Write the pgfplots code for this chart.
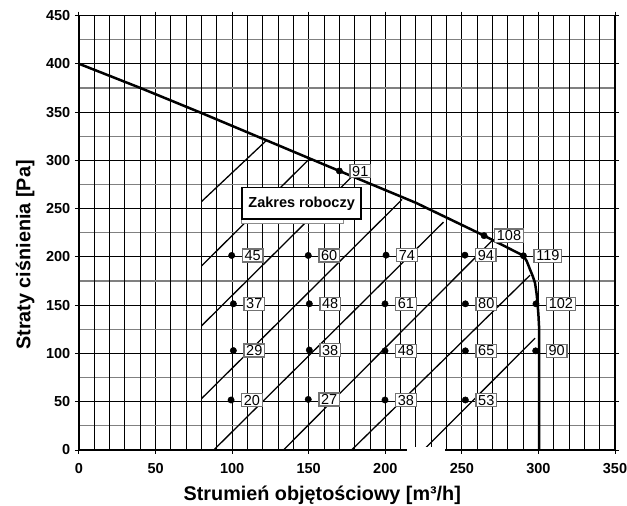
\documentclass[border=0pt]{standalone}
\usepackage{fontspec}
\setmainfont{Liberation Sans}
\usepackage{pgfplots}
\usepackage{pgfplotstable}
\pgfplotsset{compat=1.18}
\pgfplotstableread{
x y lab
99.7 201.5 45
149.7 201.5 60
200.5 201.8 74
252.0 201.8 94
290.2 201.2 119
100.8 151.4 37
150.4 151.4 48
199.8 151.4 61
252.3 151.4 80
298.4 151.4 102
100.8 103.0 29
150.4 103.5 38
199.8 102.7 48
252.3 102.7 65
298.2 102.7 90
99.3 51.8 20
149.7 52.4 27
199.8 51.8 38
252.3 51.8 53
170.0 289.0 91
264.5 222.0 108
}\points
\begin{document}
\begin{tikzpicture}
\begin{axis}[
  scale only axis, width=536bp, height=434.5bp,
  xmin=0, xmax=350, ymin=0, ymax=450,
  xtick={0,50,...,350}, ytick={0,50,...,450},
  extra x ticks={10,20,30,40,60,70,80,90,110,120,130,140,160,170,180,190,210,220,230,240,260,270,280,290,310,320,330,340},
  extra x tick labels={},
  extra x tick style={grid=major, major tick length=0pt},
  minor y tick num=1, minor tick length=0pt,
  xmajorgrids, ymajorgrids, yminorgrids,
  major grid style={black, line width=0.9bp},
  minor grid style={black!50, line width=1.2bp},
  tick align=outside, major tick length=4bp,
  tick style={black, line width=1bp},
  axis line style={line width=1.7bp},
  /pgf/number format/assume math mode=true,
  tick label style={font=\fontsize{14.5bp}{16bp}\selectfont\bfseries, inner sep=0pt},
  xticklabel style={anchor=north, yshift=-9bp},
  yticklabel style={anchor=east, xshift=-4.5bp},
  xlabel={Strumień objętościowy [m³/h]},
  ylabel={Straty ciśnienia [Pa]},
  xlabel style={at={(rel axis cs:0.4539,-0.1151)}, anchor=base, inner sep=0pt, font=\fontsize{19.8bp}{22bp}\selectfont\bfseries},
  ylabel style={at={(rel axis cs:-0.0905,0.4488)}, anchor=base, inner sep=0pt, font=\fontsize{19.8bp}{22bp}\selectfont\bfseries},
  clip=false,
  unbounded coords=jump,
  every node near coord/.style={anchor=west, xshift=10bp, fill=white, draw=black!55, line width=1.3bp,
     inner xsep=2.2bp, inner ysep=1.4bp, text height=10.3bp, text depth=0bp,
     font=\fontsize{14.5bp}{16bp}\selectfont, text=black},
  after end axis/.code={
     \fill[white] (axis cs:214.5,-3.4) rectangle (axis cs:239,3.4);
  },
]
% hatching of the working range
\addplot[black, line width=1.3bp] coordinates {
  (80,257.3) (122,320) (nan,nan)
  (80,190.6) (150.5,301.6) (nan,nan)
  (80,128.6) (178.5,283.6) (nan,nan)
  (80,53.2) (211,259.5) (nan,nan)
  (88,0) (238,236) (nan,nan)
  (133.5,0) (270.2,217.5) (nan,nan)
  (178,0) (294.5,181) (nan,nan)
  (225,0) (297.8,115.8)
};
% left boundary of working range
\addplot[black, line width=1.7bp] coordinates {(80,0) (80,349)};
% fan curve
\addplot[black, line width=2.5bp] coordinates {
  (0,400) (40,375) (80,349) (125,319) (170,289) (220,256) (264.5,222) (290.2,201.2)
  (292.4,195.5) (294.5,187) (296.3,180) (297.8,172.8) (298.8,162) (299.4,152)
  (300,140) (300.4,128) (300.4,0)
};
% working range label
\draw[black!45, fill=white, line width=1.3bp] (axis cs:106.2,234.3) rectangle (axis cs:172.6,259);
\node[draw=black, line width=1.6bp, fill=white, minimum width=119bp, minimum height=31.5bp,
      inner sep=0pt, font=\fontsize{14.5bp}{16bp}\selectfont\bfseries]
      at (axis cs:145.4,255.4) {Zakres roboczy};
% measurement points
\addplot[only marks, mark=*, mark size=3.2bp, black,
   nodes near coords, point meta=explicit symbolic] table[x=x, y=y, meta=lab] {\points};
\end{axis}
\pgfresetboundingbox
\useasboundingbox (-79bp,-56bp) rectangle (548bp,450bp);
\end{tikzpicture}
\end{document}
